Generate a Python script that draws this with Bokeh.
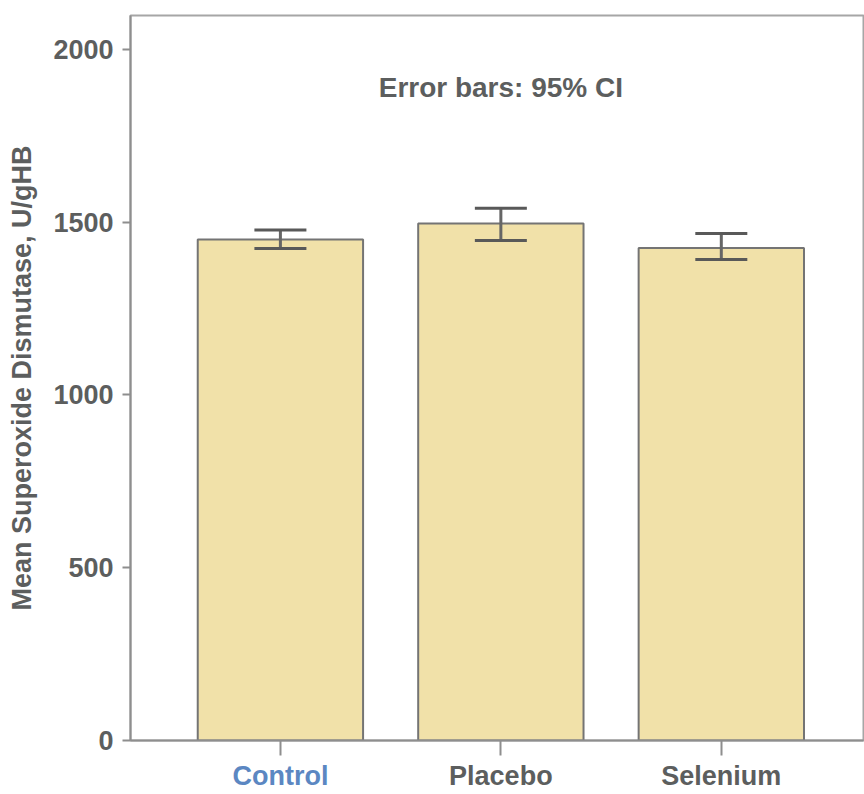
from bokeh.plotting import figure
from bokeh.models import (ColumnDataSource, FixedTicker, Range1d, Whisker,
                          TeeHead, Label, LinearAxis)
from bokeh.embed import file_html
from bokeh.resources import INLINE

# Superoxide dismutase activity per group (mean with 95% CI)
groups = ["Control", "Placebo", "Selenium"]
means = [1450, 1496, 1425]
ci_lower = [1424, 1447, 1392]
ci_upper = [1477, 1540, 1467]
y_ticks = [0, 500, 1000, 1500, 2000]

FONT = "Liberation Sans"
TEXT_GRAY = "#5c5e5e"
AXIS_GRAY = "#8e8e8e"

xs = list(range(len(groups)))
src = ColumnDataSource(dict(x=xs, mean=means, lo=ci_lower, hi=ci_upper))

p = figure(width=864, height=794, output_backend="svg", toolbar_location=None,
           x_range=Range1d(-0.68, 2.645), y_range=Range1d(0, 2098),
           min_border_left=130, min_border_right=1, min_border_top=15,
           min_border_bottom=54)
p.background_fill_color = "white"
p.border_fill_color = "white"
p.outline_line_color = "#a6a6a6"
p.outline_line_width = 2
p.grid.visible = False

p.vbar(x="x", top="mean", width=0.75, source=src,
       fill_color="#f1e1a9", line_color="#747474", line_width=2)

caps = TeeHead(size=52, line_color="#595959", line_width=3)
caps2 = TeeHead(size=52, line_color="#595959", line_width=3)
p.add_layout(Whisker(base="x", lower="lo", upper="hi", source=src,
                     line_color="#666666", line_width=3, level="overlay",
                     upper_head=caps, lower_head=caps2))

# y axis
ya = p.yaxis[0]
ya.ticker = FixedTicker(ticks=y_ticks)
ya.minor_tick_line_color = None
ya.major_tick_in = 0
ya.major_tick_out = 8
ya.major_tick_line_color = AXIS_GRAY
ya.major_tick_line_width = 2
ya.axis_line_color = AXIS_GRAY
ya.axis_line_width = 2
ya.major_label_standoff = 9
ya.major_label_text_font = FONT
ya.major_label_text_font_style = "bold"
ya.major_label_text_font_size = "27px"
ya.major_label_text_color = TEXT_GRAY
ya.axis_label = "Mean Superoxide Dismutase, U/gHB"
ya.axis_label_text_font = FONT
ya.axis_label_text_font_style = "bold"
ya.axis_label_text_font_size = "27px"
ya.axis_label_text_color = TEXT_GRAY
ya.axis_label_standoff = 13

# x axis: group names (control group label lives on its own axis, in blue)
xa = p.xaxis[0]
xa.ticker = FixedTicker(ticks=xs)
xa.major_label_overrides = {i: ("" if i == 0 else g) for i, g in enumerate(groups)}
xa.minor_tick_line_color = None
xa.major_tick_in = 0
xa.major_tick_out = 15
xa.major_tick_line_color = AXIS_GRAY
xa.major_tick_line_width = 2
xa.axis_line_color = AXIS_GRAY
xa.axis_line_width = 2
xa.major_label_standoff = 5
xa.major_label_text_font = FONT
xa.major_label_text_font_style = "bold"
xa.major_label_text_font_size = "27px"
xa.major_label_text_color = TEXT_GRAY

xa_ctrl = LinearAxis(ticker=FixedTicker(ticks=[xs[0]]),
                     major_label_overrides={xs[0]: groups[0]},
                     axis_line_color=None, major_tick_line_color=None,
                     minor_tick_line_color=None, major_tick_in=0,
                     major_tick_out=0, major_label_standoff=-33,
                     major_label_text_font=FONT,
                     major_label_text_font_style="bold",
                     major_label_text_font_size="27px",
                     major_label_text_color="#5b87c2")
p.add_layout(xa_ctrl, "below")

p.add_layout(Label(x=1, y=1890, text="Error bars: 95% CI",
                   text_align="center", text_baseline="middle",
                   text_font=FONT, text_font_style="bold",
                   text_font_size="28px", text_color=TEXT_GRAY))

open("out.html", "w").write(file_html(p, INLINE))
